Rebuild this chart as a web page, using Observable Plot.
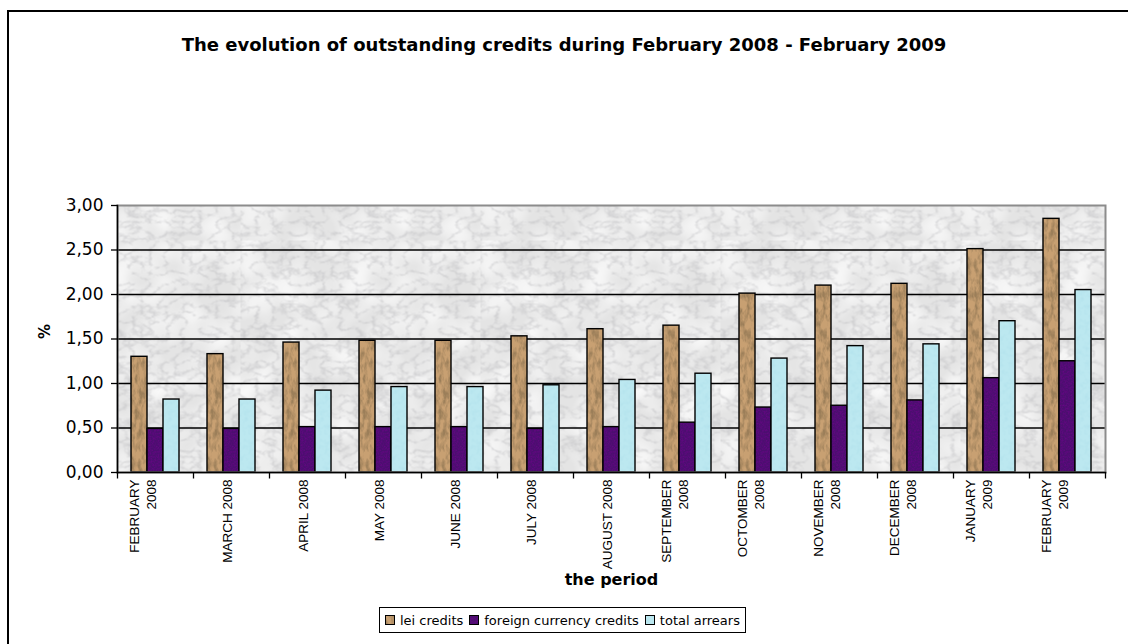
<!DOCTYPE html>
<html>
<head>
<meta charset="utf-8">
<script src="https://cdn.jsdelivr.net/npm/d3@7"></script>
<script src="https://cdn.jsdelivr.net/npm/@observablehq/plot@0.6"></script>
<style>
  html, body { margin: 0; padding: 0; background: #fff; overflow: hidden; }
  #wrap { position: relative; width: 1128px; height: 644px; overflow: hidden; }
  #outer { position: absolute; left: 7px; top: 10px; width: 1300px; height: 800px;
           border-left: 2px solid #000; border-top: 2px solid #000; }
  #title { position: absolute; left: 0; top: 34px; width: 1128px; text-align: center;
           font: bold 18px "DejaVu Sans", sans-serif; color: #000; }
  #chart { position: absolute; left: 0; top: 0; }
  #legend { position: absolute; left: 379px; top: 607px; height: 24px; padding: 0 5px;
            border: 1.5px solid #000; background: #fff; display: flex; align-items: center;
            font: 13px "DejaVu Sans", sans-serif; color: #000; white-space: nowrap; }
  #legend .item { display: flex; align-items: center; margin-right: 6px; }
  #legend .item:last-child { margin-right: 0; }
  #legend svg { margin-right: 5px; }
</style>
</head>
<body>
<svg width="0" height="0" style="position:absolute">
  <defs>
    <filter id="fMarble" x="0" y="0" width="1" height="1">
      <feTurbulence type="turbulence" baseFrequency="0.06 0.09" numOctaves="4" seed="7"/>
      <feColorMatrix type="matrix" values="0 0 0 0 0.45  0 0 0 0 0.45  0 0 0 0 0.47  -1.6 0 0 0 0.5"/>
    </filter>
    <filter id="fMarble2" x="0" y="0" width="1" height="1">
      <feTurbulence type="fractalNoise" baseFrequency="0.03" numOctaves="2" seed="11"/>
      <feColorMatrix type="matrix" values="0 0 0 0 1  0 0 0 0 1  0 0 0 0 1  1.6 0 0 0 -0.55"/>
    </filter>
    <pattern id="pMarble" patternUnits="userSpaceOnUse" width="240" height="240">
      <rect width="240" height="240" fill="#e4e4e4"/>
      <rect width="240" height="240" filter="url(#fMarble2)"/>
      <rect width="240" height="240" filter="url(#fMarble)"/>
    </pattern>
    <filter id="fLei" x="0" y="0" width="1" height="1">
      <feTurbulence type="fractalNoise" baseFrequency="0.25 0.1" numOctaves="3" seed="3"/>
      <feColorMatrix type="matrix" values="0 0 0 0 0.33  0 0 0 0 0.21  0 0 0 0 0.1  2.6 0 0 0 -1.0"/>
    </filter>
    <pattern id="pLei" patternUnits="userSpaceOnUse" width="120" height="200">
      <rect width="120" height="200" fill="#c8a072"/>
      <rect width="120" height="200" filter="url(#fLei)"/>
    </pattern>
    <filter id="fForeign" x="0" y="0" width="1" height="1">
      <feTurbulence type="fractalNoise" baseFrequency="0.6" numOctaves="2" seed="5"/>
      <feColorMatrix type="matrix" values="0 0 0 0 0.18  0 0 0 0 0.0  0 0 0 0 0.28  1.2 0 0 0 -0.45"/>
    </filter>
    <pattern id="pForeign" patternUnits="userSpaceOnUse" width="120" height="120">
      <rect width="120" height="120" fill="#4c0e70"/>
      <rect width="120" height="120" filter="url(#fForeign)"/>
    </pattern>
    <filter id="fTotal" x="0" y="0" width="1" height="1">
      <feTurbulence type="fractalNoise" baseFrequency="0.2" numOctaves="2" seed="9"/>
      <feColorMatrix type="matrix" values="0 0 0 0 0.45  0 0 0 0 0.76  0 0 0 0 0.84  2.0 0 0 0 -0.85"/>
    </filter>
    <pattern id="pTotal" patternUnits="userSpaceOnUse" width="120" height="120">
      <rect width="120" height="120" fill="#bce8f0"/>
      <rect width="120" height="120" filter="url(#fTotal)"/>
    </pattern>
  </defs>
</svg>
<div id="wrap">
  <div id="outer"></div>
  <div id="chart"></div>
  <div id="title">The evolution of outstanding credits during February 2008 - February 2009</div>
  <div id="legend"></div>
</div>
<script>
// ---- data ----
const months = [
  "FEBRUARY\n2008", "MARCH 2008", "APRIL 2008", "MAY 2008", "JUNE 2008", "JULY 2008",
  "AUGUST 2008", "SEPTEMBER\n2008", "OCTOMBER\n2008", "NOVEMBER\n2008", "DECEMBER\n2008",
  "JANUARY\n2009", "FEBRUARY\n2009"
];
const leiCredits     = [1.30, 1.33, 1.46, 1.48, 1.48, 1.53, 1.61, 1.65, 2.01, 2.10, 2.12, 2.51, 2.85];
const foreignCredits = [0.49, 0.49, 0.51, 0.51, 0.51, 0.49, 0.51, 0.56, 0.73, 0.75, 0.81, 1.06, 1.25];
const totalArrears   = [0.82, 0.82, 0.92, 0.96, 0.96, 0.98, 1.04, 1.11, 1.28, 1.42, 1.44, 1.70, 2.05];
const seriesNames = ["lei credits", "foreign currency credits", "total arrears"];
const seriesFills = ["url(#pLei)", "url(#pForeign)", "url(#pTotal)"];
const yTicks = [0, 0.5, 1, 1.5, 2, 2.5, 3];
const yTitle = "%";
const xTitle = "the period";

const seriesValues = [leiCredits, foreignCredits, totalArrears];
const rows = months.flatMap((m, i) =>
  seriesNames.map((s, k) => ({month: m, series: s, value: seriesValues[k][i]})));

const fmt = d => d.toFixed(2).replace(".", ",");
const tickSymbol = { draw(ctx) { ctx.moveTo(0, 0); ctx.lineTo(0, 6); } };

const chart = Plot.plot({
  width: 1128,
  height: 610,
  marginLeft: 114,
  marginRight: 21,
  marginTop: 205,
  marginBottom: 138,
  style: { fontFamily: "DejaVu Sans, sans-serif", background: "transparent", color: "#000" },
  fx: { domain: months, padding: 0, axis: null, label: null },
  x: { domain: seriesNames, paddingInner: 0, paddingOuter: 0.75, axis: null },
  y: { domain: [0, 3], axis: null },
  color: { domain: seriesNames, range: seriesFills },
  marks: [
    Plot.frame({ facet: "super", fill: "url(#pMarble)", stroke: null }),
    Plot.gridY(yTicks.filter(t => t > 0 && t < 3), { stroke: "#000", strokeOpacity: 1, strokeWidth: 1.3 }),
    Plot.barY(rows, { fx: "month", x: "series", y: "value", fill: "series", stroke: "#000", strokeWidth: 1.4 }),
    Plot.frame({ facet: "super", stroke: "#8c8c8c", strokeWidth: 2 }),
    Plot.frame({ facet: "super", anchor: "left", stroke: "#000", strokeWidth: 1.5 }),
    Plot.frame({ facet: "super", anchor: "bottom", stroke: "#000", strokeWidth: 1.5 }),
    Plot.axisY({ ticks: yTicks, tickSize: 6, tickPadding: 8, tickFormat: fmt, fontSize: 17, label: null, strokeWidth: 1.3 }),
    Plot.text([yTitle], { facet: "super", frameAnchor: "left", dx: -72, rotate: -90, fontWeight: "bold", fontSize: 15 }),
    Plot.dot(months, { fx: d => d, frameAnchor: "bottom-left", symbol: tickSymbol, stroke: "#000", fill: "none", r: 3, strokeWidth: 1.3 }),
    Plot.dot(months.slice(-1), { fx: d => d, frameAnchor: "bottom-right", symbol: tickSymbol, stroke: "#000", fill: "none", r: 3, strokeWidth: 1.3 }),
    Plot.text(months, { fx: d => d, text: d => d, frameAnchor: "bottom", rotate: -90, textAnchor: "end",
                        dy: 7, lineHeight: 1.25, fontSize: 13.5, fontFamily: "Liberation Sans, Arial, sans-serif" }),
    Plot.text([xTitle], { facet: "super", frameAnchor: "bottom", dy: 112, fontWeight: "bold", fontSize: 16 })
  ]
});
document.getElementById("chart").append(chart);

// legend
const legend = document.getElementById("legend");
seriesNames.forEach((s, k) => {
  const item = document.createElement("div");
  item.className = "item";
  item.innerHTML = `<svg width="10" height="10"><rect x="0.5" y="0.5" width="9" height="9" fill="${seriesFills[k]}" stroke="#000" stroke-width="1"/></svg><span>${s}</span>`;
  legend.append(item);
});
</script>
</body>
</html>
